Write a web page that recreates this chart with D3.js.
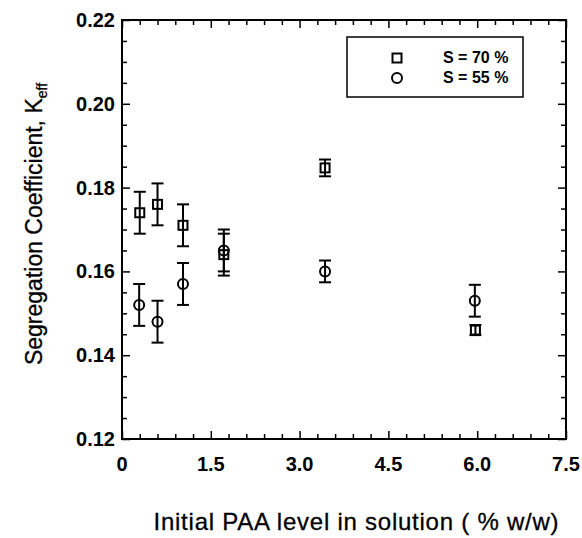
<!DOCTYPE html>
<html>
<head>
<meta charset="utf-8">
<script src="https://cdn.jsdelivr.net/npm/d3@7"></script>
<style>
  html, body { margin: 0; padding: 0; background: #fff; }
  svg { display: block; font-family: "Liberation Sans", Arial, sans-serif; }
</style>
</head>
<body>
<svg id="chart" width="582" height="538"></svg>
<script>
// PAA level (% w/w) and segregation coefficient for two supersaturations
const paa70 = [0.3, 0.6, 1.03, 1.72, 3.43, 5.97];
const keff70 = [0.174, 0.176, 0.171, 0.164, 0.1847, 0.146];
const err70 = [0.005, 0.005, 0.005, 0.005, 0.002, 0.0012];

const paa55 = [0.29, 0.6, 1.03, 1.72, 3.43, 5.96];
const keff55 = [0.152, 0.148, 0.157, 0.165, 0.160, 0.153];
const err55 = [0.005, 0.005, 0.005, 0.005, 0.0026, 0.0038];

const xTickValues = [0, 1.5, 3.0, 4.5, 6.0, 7.5];
const xTickLabels = ["0", "1.5", "3.0", "4.5", "6.0", "7.5"];
const yTickValues = [0.12, 0.14, 0.16, 0.18, 0.20, 0.22];
const yTickLabels = ["0.12", "0.14", "0.16", "0.18", "0.20", "0.22"];

const seriesNames = ["S = 70 %", "S = 55 %"];

const svg = d3.select("#chart");
const m = { left: 122, right: 566, top: 20, bottom: 439 };

const x = d3.scaleLinear().domain([0, 7.5]).range([m.left, m.right]);
const y = d3.scaleLinear().domain([0.12, 0.22]).range([m.bottom, m.top]);

const xMinor = d3.range(0, 7.5001, 0.3).filter(v => !xTickValues.some(t => Math.abs(t - v) < 1e-6));
const yMinor = d3.range(0.12, 0.22001, 0.005).filter(v => !yTickValues.some(t => Math.abs(t - v) < 1e-6));

const g = svg.append("g");

// Ticks pointing inward on all four sides
function tickSet(axisGen, translate) {
  const a = g.append("g").attr("transform", translate).call(axisGen);
  a.select(".domain").remove();
  a.selectAll("line").attr("stroke", "#000").attr("stroke-width", 1.5);
  a.selectAll("text").remove();
  return a;
}
tickSet(d3.axisBottom(x).tickValues(xTickValues).tickSize(-8), `translate(0,${m.bottom})`);
tickSet(d3.axisBottom(x).tickValues(xMinor).tickSize(-5), `translate(0,${m.bottom})`);
tickSet(d3.axisTop(x).tickValues(xTickValues).tickSize(-8), `translate(0,${m.top})`);
tickSet(d3.axisTop(x).tickValues(xMinor).tickSize(-5), `translate(0,${m.top})`);
tickSet(d3.axisLeft(y).tickValues(yTickValues).tickSize(-8), `translate(${m.left},0)`);
tickSet(d3.axisLeft(y).tickValues(yMinor).tickSize(-5), `translate(${m.left},0)`);
tickSet(d3.axisRight(y).tickValues(yTickValues).tickSize(-8), `translate(${m.right},0)`);
tickSet(d3.axisRight(y).tickValues(yMinor).tickSize(-5), `translate(${m.right},0)`);

// Frame
g.append("rect")
  .attr("x", m.left).attr("y", m.top)
  .attr("width", m.right - m.left).attr("height", m.bottom - m.top)
  .attr("fill", "none").attr("stroke", "#000").attr("stroke-width", 2);

// Tick labels
g.selectAll(".xl").data(xTickValues).enter().append("text")
  .attr("x", d => x(d)).attr("y", m.bottom + 32)
  .attr("text-anchor", "middle")
  .attr("font-size", 20).attr("font-weight", "bold")
  .text((d, i) => xTickLabels[i]);

g.selectAll(".yl").data(yTickValues).enter().append("text")
  .attr("x", m.left - 7).attr("y", d => y(d) + 7)
  .attr("text-anchor", "end")
  .attr("font-size", 20).attr("font-weight", "bold")
  .text((d, i) => yTickLabels[i]);

// Axis titles
g.append("text")
  .attr("x", 356).attr("y", 530)
  .attr("text-anchor", "middle")
  .attr("font-size", 24)
  .attr("stroke", "#000").attr("stroke-width", 0.3)
  .attr("textLength", 405).attr("lengthAdjust", "spacing")
  .text("Initial PAA level in solution ( % w/w)");

const yt = g.append("text")
  .attr("transform", "translate(42,224) rotate(-90)")
  .attr("text-anchor", "middle")
  .attr("font-size", 23)
  .attr("stroke", "#000").attr("stroke-width", 0.3);
yt.append("tspan").text("Segregation Coefficient, K");
yt.append("tspan").attr("font-size", 14).attr("dy", 5).text("eff");

// Error bars and markers
function errorBars(xs, ys, es) {
  const eb = g.append("g").attr("stroke", "#000").attr("stroke-width", 2).attr("fill", "none");
  xs.forEach((xv, i) => {
    const cx = x(xv), top = y(ys[i] + es[i]), bot = y(ys[i] - es[i]);
    eb.append("line").attr("x1", cx).attr("x2", cx).attr("y1", top).attr("y2", bot);
    eb.append("line").attr("x1", cx - 6).attr("x2", cx + 6).attr("y1", top).attr("y2", top);
    eb.append("line").attr("x1", cx - 6).attr("x2", cx + 6).attr("y1", bot).attr("y2", bot);
  });
}
errorBars(paa70, keff70, err70);
errorBars(paa55, keff55, err55);

const sq = 9;
g.append("g").selectAll("rect").data(paa70).enter().append("rect")
  .attr("x", d => x(d) - sq / 2)
  .attr("y", (d, i) => y(keff70[i]) - sq / 2)
  .attr("width", sq).attr("height", sq)
  .attr("fill", "none").attr("stroke", "#000").attr("stroke-width", 2);

g.append("g").selectAll("circle").data(paa55).enter().append("circle")
  .attr("cx", d => x(d))
  .attr("cy", (d, i) => y(keff55[i]))
  .attr("r", 5)
  .attr("fill", "none").attr("stroke", "#000").attr("stroke-width", 2);

// Legend
const lg = g.append("g");
lg.append("rect")
  .attr("x", 347).attr("y", 37).attr("width", 176).attr("height", 60)
  .attr("fill", "#fff").attr("stroke", "#000").attr("stroke-width", 1.5);
lg.append("rect")
  .attr("x", 397 - sq / 2).attr("y", 58 - sq / 2).attr("width", sq).attr("height", sq)
  .attr("fill", "none").attr("stroke", "#000").attr("stroke-width", 2);
lg.append("circle")
  .attr("cx", 397).attr("cy", 78).attr("r", 5)
  .attr("fill", "none").attr("stroke", "#000").attr("stroke-width", 2);
lg.selectAll("text").data(seriesNames).enter().append("text")
  .attr("x", 443).attr("y", (d, i) => 63 + i * 20)
  .attr("font-size", 16).attr("font-weight", "bold")
  .text(d => d);
</script>
</body>
</html>
